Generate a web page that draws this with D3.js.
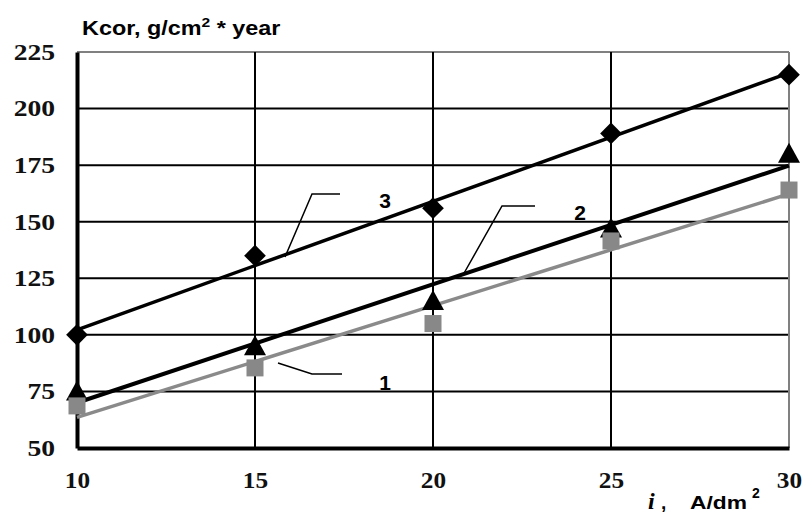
<!DOCTYPE html>
<html>
<head>
<meta charset="utf-8">
<script src="https://cdn.jsdelivr.net/npm/d3@7"></script>
<style>
  html, body { margin: 0; padding: 0; background: #fff; }
  svg { display: block; }
</style>
</head>
<body>
<svg id="chart" width="803" height="519"></svg>
<script>
// Current density, A/dm²
const currents = [10, 15, 20, 25, 30];
// Corrosion rate for the three coatings
const series1 = [68.6, 85.4, 105, 141.5, 164];
const series2 = [75, 95, 115, 147, 180];
const series3 = [100, 135, 156, 189, 215];
const xTicks = [10, 15, 20, 25, 30];
const yTicks = [50, 75, 100, 125, 150, 175, 200, 225];
const seriesLabels = ["1", "2", "3"];

const svg = d3.select("#chart");
const x = d3.scaleLinear().domain([10, 30]).range([77, 789]);
const y = d3.scaleLinear().domain([50, 225]).range([448, 52]);
const stretch = 1.2; // wide lettering

// least-squares trend line through a series
function trend(vals) {
  const mx = d3.mean(currents), my = d3.mean(vals);
  const b = d3.sum(currents, (c, i) => (c - mx) * (vals[i] - my)) /
            d3.sum(currents, c => (c - mx) * (c - mx));
  const a = my - b * mx;
  return [[10, a + b * 10], [30, a + b * 30]];
}

// grid
const grid = svg.append("g");
grid.selectAll("line.h").data(yTicks.filter(v => v > 50)).join("line")
  .attr("x1", x(10)).attr("x2", x(30))
  .attr("y1", d => y(d)).attr("y2", d => y(d))
  .attr("stroke", d => d === 225 ? "#808080" : "#000")
  .attr("stroke-width", 2);
grid.selectAll("line.v").data(xTicks.filter(v => v > 10)).join("line")
  .attr("y1", y(50)).attr("y2", y(225))
  .attr("x1", d => x(d)).attr("x2", d => x(d))
  .attr("stroke", d => d === 30 ? "#808080" : "#000")
  .attr("stroke-width", 2);

// axes
const yAxis = d3.axisLeft(y).tickValues(yTicks).tickSize(0);
const gy = svg.append("g").attr("transform", `translate(${x(10)},0)`).call(yAxis);
gy.select(".domain").attr("stroke", "#000").attr("stroke-width", 4);
gy.selectAll("text").attr("font-family", "Liberation Serif").attr("font-weight", "bold")
  .attr("font-size", 23).attr("fill", "#111")
  .attr("x", -22 / stretch).attr("transform", `scale(${stretch},1)`);

const xAxis = d3.axisBottom(x).tickValues(xTicks).tickSize(0).tickPadding(24);
const gx = svg.append("g").attr("transform", `translate(0,${y(50)})`).call(xAxis);
gx.select(".domain").attr("stroke", "#000").attr("stroke-width", 4);
gx.selectAll("text").attr("font-family", "Liberation Serif").attr("font-weight", "bold")
  .attr("font-size", 23).attr("fill", "#111").attr("transform", "scale(1.1,1)");

// trend lines
const line = d3.line().x(d => x(d[0])).y(d => y(d[1]));
const styles = [
  { vals: series1, color: "#8a8a8a", width: 3.5 },
  { vals: series2, color: "#000", width: 4 },
  { vals: series3, color: "#000", width: 3.5 }
];
styles.forEach(s => {
  svg.append("path").attr("d", line(trend(s.vals)))
    .attr("fill", "none").attr("stroke", s.color).attr("stroke-width", s.width);
});

// markers
const pts = vals => currents.map((c, i) => [c, vals[i]]);
svg.append("g").selectAll("path").data(pts(series3)).join("path")
  .attr("transform", d => `translate(${x(d[0])},${y(d[1])})`)
  .attr("d", d3.symbol(d3.symbolDiamond2, 300)).attr("fill", "#000");
svg.append("g").selectAll("path").data(pts(series2)).join("path")
  .attr("transform", d => `translate(${x(d[0])},${y(d[1])})`)
  .attr("d", "M0,-11L11,9L-11,9Z").attr("fill", "#000");
svg.append("g").selectAll("rect").data(pts(series1)).join("rect")
  .attr("x", d => x(d[0]) - 8.5).attr("y", d => y(d[1]) - 8.5)
  .attr("width", 17).attr("height", 17).attr("fill", "#888");

// callouts
const callouts = [
  { label: seriesLabels[0], path: [[278, 363], [312, 374], [342, 374]], tx: 385, ty: 390 },
  { label: seriesLabels[1], path: [[463, 275], [502, 206], [535, 206]], tx: 580, ty: 220 },
  { label: seriesLabels[2], path: [[285, 257], [312, 194], [340, 194]], tx: 385, ty: 208 }
];
callouts.forEach(c => {
  svg.append("path").attr("d", d3.line()(c.path))
    .attr("fill", "none").attr("stroke", "#000").attr("stroke-width", 1.5);
  svg.append("text").attr("x", c.tx).attr("y", c.ty).attr("text-anchor", "middle")
    .attr("font-family", "Liberation Sans").attr("font-weight", "bold").attr("font-size", 21)
    .text(c.label);
});

// axis titles
const yt = svg.append("text").attr("transform", `translate(82,35) scale(${stretch},1)`)
  .attr("font-family", "Liberation Sans").attr("font-weight", "bold").attr("font-size", 19.5);
yt.append("tspan").text("Kcor, g/cm");
yt.append("tspan").attr("dy", -8).attr("font-size", 13).text("2");
yt.append("tspan").attr("dy", 8).text(" * year");

const xt = svg.append("g").attr("font-weight", "bold");
xt.append("text").attr("x", 648).attr("y", 509)
  .attr("font-family", "Liberation Serif").attr("font-style", "italic").attr("font-size", 24).text("i");
xt.append("text").attr("x", 661).attr("y", 509)
  .attr("font-family", "Liberation Sans").attr("font-size", 19).text(",");
xt.append("text").attr("transform", `translate(690,509) scale(${stretch},1)`)
  .attr("font-family", "Liberation Sans").attr("font-size", 19).text("A/dm");
xt.append("text").attr("x", 752).attr("y", 498)
  .attr("font-family", "Liberation Sans").attr("font-size", 14).text("2");
</script>
</body>
</html>
